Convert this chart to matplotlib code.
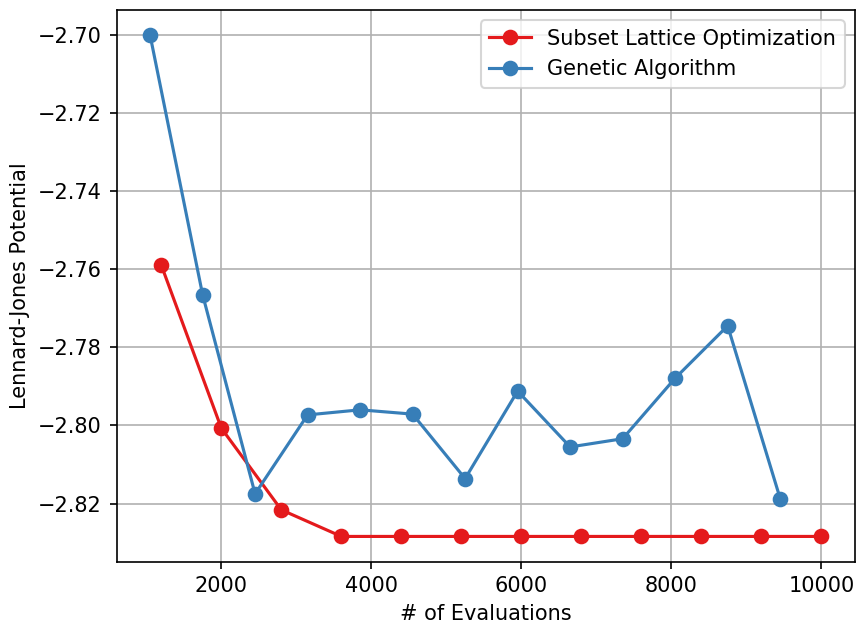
import matplotlib
matplotlib.use("Agg")
import matplotlib.pyplot as plt

slo_x = [1200, 2000, 2800, 3600, 4400, 5200, 6000, 6800, 7600, 8400, 9200, 10000]
slo_y = [-2.759, -2.8007, -2.8216, -2.8284, -2.8284, -2.8284, -2.8284, -2.8284,
         -2.8284, -2.8284, -2.8284, -2.8284]

ga_x = [1050, 1750, 2450, 3150, 3850, 4550, 5250, 5950, 6650, 7350, 8050, 8750, 9450]
ga_y = [-2.7001, -2.7665, -2.8175, -2.7973, -2.7960, -2.7971, -2.8136, -2.7912,
        -2.8055, -2.8034, -2.7879, -2.7745, -2.8187]

dpi = 150
fig = plt.figure(figsize=(856 / dpi, 623 / dpi), dpi=dpi)
W, H = 856, 623
ax = fig.add_axes([116.5 / W, (H - 561.5) / H, (855 - 116.5) / W, (561.5 - 10) / H])

ax.plot(slo_x, slo_y, '-o', color='#e41a1c', label='Subset Lattice Optimization', markersize=6.5)
ax.plot(ga_x, ga_y, '-o', color='#377eb8', label='Genetic Algorithm', markersize=6.5)

ax.set_xlabel('# of Evaluations')
ax.set_ylabel('Lennard-Jones Potential')
ax.grid(True)
ax.legend(loc='upper right')

fig.savefig('out.png', dpi=dpi)
